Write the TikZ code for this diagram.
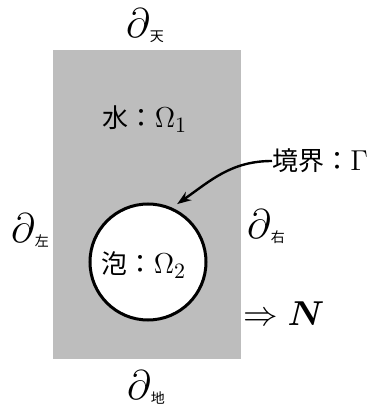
\documentclass[tikz,border=0pt]{standalone}
\usepackage{amsmath,amssymb,bm}
\usepackage{fontspec}
\newfontfamily\cjk{Noto Sans CJK JP}
\usepackage{tikz}
\usetikzlibrary{arrows.meta}
\newcommand{\bdry}[1]{{\fontsize{21}{24}\selectfont$\partial$}\raisebox{-2pt}{\fontsize{7}{8}\selectfont\cjk #1}}
\newcommand{\om}[1]{{\fontsize{15}{17}\selectfont$\Omega_{#1}$}}
\tikzset{
  pool/.style={rectangle, draw=none, fill=black!26, minimum width=94pt, minimum height=154.5pt, inner sep=0pt},
  bub/.style={circle, draw=black, line width=1.5pt, fill=white, minimum size=58pt, inner sep=0pt},
  lbl/.style={inner sep=0pt, font=\fontsize{13}{15}\selectfont\cjk},
  bd/.style={inner sep=0pt},
  arrow/.style={-{Stealth[length=7pt,width=5pt]}, line width=1.2pt}
}
\begin{document}
\begin{tikzpicture}[x=0.5pt, y=0.5pt]
  \useasboundingbox (0,0) rectangle (374,408);
  \node[pool] (pool) at (147,203.5) {};
  \node[bub] (bub) at (148,146) {};
  \node[lbl] (water) at (145,289) {水：\om{1}};
  \node[lbl] (foam) at (144,143) {泡：\om{2}};
  \node[lbl, anchor=west] (gamma) at (272,247) {境界：{\fontsize{15}{17}\selectfont$\Gamma$}};
  \node[bd] (top) at (145,382) {\bdry{天}};
  \node[bd] (bot) at (146,21) {\bdry{地}};
  \node[bd] (left) at (30,178) {\bdry{左}};
  \node[bd] (right) at (266,181) {\bdry{右}};
  \node[bd, anchor=west] (norm) at (243,94) {\fontsize{19}{22}\selectfont$\Rightarrow\bm{N}$};
  \draw[arrow] (gamma.west) to[out=180, in=35] ([shift={(2pt,2pt)}]bub.65);
\end{tikzpicture}
\end{document}
